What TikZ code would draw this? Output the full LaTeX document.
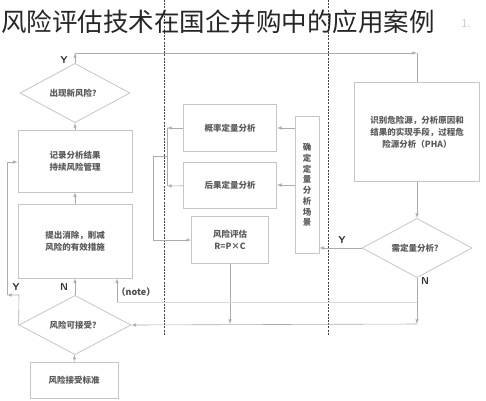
\documentclass[tikz,border=0pt]{standalone}
\usepackage{fontspec}
\usepackage{tikz}
\usetikzlibrary{shapes.geometric}
\newfontfamily\cjk{Noto Sans CJK SC}

\tikzset{
  box/.style={draw=gray!45, line width=0.8pt, fill=white, text=black!65,
              font=\cjk\bfseries\fontsize{8.5}{12}\selectfont, align=center, inner sep=0pt},
  decision/.style={shape=diamond, draw=gray!45, line width=0.8pt, fill=white, text=black!65,
              font=\cjk\bfseries\fontsize{8.5}{12}\selectfont, inner sep=0pt},
  lane/.style={draw=black!75, line width=0.8pt, dash pattern=on 2pt off 1.2pt},
  wire/.style={draw=gray!65, line width=0.6pt},
  faint/.style={draw=gray!30, line width=0.6pt},
  yn/.style={font=\sffamily\bfseries\fontsize{10}{10}\selectfont, text=black!80, inner sep=1pt}
}

\begin{document}
\begin{tikzpicture}[>=latex, x=1pt, y=-1pt]
  \useasboundingbox (0,0) rectangle (486,400);

  % lanes
  \draw [lane] (164,0) -- (164,335);
  \draw [lane] (328,0) -- (328,335);

  \node (title) at (218,22) [font=\cjk\fontsize{25.5}{26}\selectfont, text=black!85, inner sep=0pt] {风险评估技术在国企并购中的应用案例};
  \node (ghost) at (466,24) [font=\cjk\fontsize{11}{11}\selectfont, text=gray!40, inner sep=0pt] {1.};

  % right lane
  \node (pha) at (417,132) [box, minimum width=125pt, minimum height=99pt] {识别危险源，分析原因和\\结果的实现手段，过程危\\险源分析（PHA）};
  \node (needq) at (417,248) [decision, minimum width=110pt, minimum height=47pt] {需定量分析？};

  % middle lane
  \node (scene) at (307,185) [box, minimum width=24pt, minimum height=137pt,
                              font=\cjk\bfseries\fontsize{8.5}{10.7}\selectfont] {确\\定\\定\\量\\分\\析\\场\\景};
  \node (prob) at (230,128) [box, minimum width=93pt, minimum height=47pt] {概率定量分析};
  \node (cons) at (230,185) [box, minimum width=93pt, minimum height=46pt] {后果定量分析};
  \node (reval) at (230,240) [box, minimum width=77pt, minimum height=47pt] {风险评估\\R=P×C};

  % left lane
  \node (newrisk) at (75,93) [decision, minimum width=110pt, minimum height=55pt] {出现新风险？};
  \node (record) at (75,161) [box, minimum width=114pt, minimum height=62pt] {记录分析结果\\持续风险管理};
  \node (measure) at (75,241) [box, minimum width=114pt, minimum height=74pt] {提出消除，削减\\风险的有效措施};
  \node (riskok) at (75,325) [decision, minimum width=112pt, minimum height=56pt] {风险可接受？};
  \node (accept) at (74,380) [box, minimum width=88pt, minimum height=36pt] {风险接受标准};
  \node (note) at (136,292) [font=\cjk\bfseries\fontsize{9}{9}\selectfont, text=black!70, inner sep=0pt] {（note）};

  \coordinate (tl) at (75,53);
  \coordinate (tr) at (417,53);
  \coordinate (pl) at (167,128);
  \coordinate (cl) at (167,186);
  \coordinate (bm) at (167,156);
  \coordinate (bl) at (153,156);
  \coordinate (nb) at (417,324);
  \coordinate (nn) at (417,302);
  \coordinate (nt) at (117,302);
  \coordinate (ly1) at (19,295);
  \coordinate (ly2) at (7,295);
  \coordinate (ly3) at (7,162);

  % loop back to PHA
  \draw [wire,->] (newrisk) -- (tl);
  \draw [wire,->] (tl) -- (tr);
  \draw [wire] (tr) -- (pha);
  \node at (64,60) [yn] {Y};

  \draw [wire,->] (pha) -- (needq);
  \draw [wire,->] (needq.west) -- (scene.east |- needq.west);
  \node at (342,240) [yn] {Y};
  \draw [wire,->] (scene.west |- prob) -- (prob);
  \draw [wire,->] (scene.west |- cons) -- (cons);
  \draw [wire,->] (prob) -- (pl);
  \draw [wire,->] (cons) -- (cl);
  \draw [wire] (pl) -- (cl);
  \draw [wire,->] (bm) -- (bl) |- (reval);
  \draw [wire,->] (reval) -- (reval |- nb);

  \draw [wire,->] (needq.south) -- (nb);
  \node at (425,281) [yn] {N};
  \draw [wire,->] (nb) -- (riskok.east);
  \draw [faint] (nn) -- (nt);
  \draw [wire,->] (nt) -- (nt |- measure.south);

  \draw [wire,->] (accept) -- (riskok);
  \draw [wire,->] (riskok) -- (measure);
  \node at (64,287) [yn] {N};
  \draw [wire,->] (riskok.west) -- (ly1) -- (ly2);
  \draw [wire,->] (ly2) -- (ly3) -- (record.west |- ly3);
  \node at (16,287) [yn] {Y};
  \draw [wire,->] (measure) -- (record);
  \draw [wire,->] (record) -- (newrisk);
\end{tikzpicture}
\end{document}
